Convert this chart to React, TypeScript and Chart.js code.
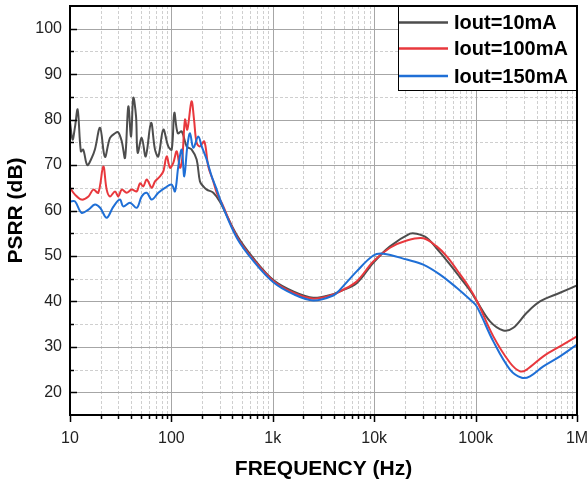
import React, { useEffect, useRef } from 'react';
import { Chart, registerables } from 'chart.js';

Chart.register(...registerables);

const xTickValues = [10, 100, 1000, 10000, 100000, 1000000];
const xTickLabels = ['10', '100', '1k', '10k', '100k', '1M'];
const yTickValues = [20, 30, 40, 50, 60, 70, 80, 90, 100];
const seriesLabels = ['Iout=10mA', 'Iout=100mA', 'Iout=150mA'];
const seriesColors = ['#4d4d4d', '#e8383d', '#1f6fd6'];

const freq10 = [10, 10.6, 11.2, 11.9, 12.8, 13.5, 14.8, 16.4, 17.6, 19.8, 22.1, 24.8, 27.8, 29.9, 32.4, 34.9, 37.6, 40, 42.1, 44.8, 46.5, 51, 55.8, 63, 68.9, 74.3, 83.2, 93.2, 100.7, 106.9, 115.4, 126.4, 141.6, 158.5, 177.4, 191.3, 206.4, 223, 259, 301, 441, 643, 1012, 1592, 2506, 3953, 4603, 6715, 9795, 14330, 22550, 26240, 32940, 44560, 55000, 70000, 88100, 102500, 138700, 187700, 235500, 319300, 431500, 679500, 1000000];
const psrr10 = [79.5, 75.6, 78.4, 82.2, 73, 73.4, 70, 71.6, 73.4, 78.2, 71.8, 76, 77, 77.2, 75.2, 71.6, 82.9, 76.3, 84.8, 80.7, 72.7, 76, 71.9, 79.3, 73.4, 71.9, 77.8, 74.1, 73.4, 81.5, 77, 77.4, 74.1, 73.4, 71.2, 66.4, 65.3, 64.6, 63.9, 61.9, 54.6, 49.5, 44.7, 42.2, 40.8, 41.6, 42.2, 44, 48.5, 52.1, 54.9, 54.9, 54, 50.8, 48.3, 45.3, 42.4, 40.1, 35.6, 33.6, 34.2, 37.5, 40, 41.9, 43.5];

const freq100 = [10, 11.2, 13.0, 15.2, 17.0, 19.0, 21.3, 23.0, 24.8, 27.8, 29.9, 32.4, 36.2, 40.6, 45.5, 49.0, 52.8, 57.1, 64.0, 68.9, 77.2, 83.2, 89.9, 96.9, 104.4, 112.8, 121.6, 128.1, 136.2, 143.5, 158, 167.2, 177.4, 191.3, 211, 231, 259, 280, 313, 441, 643, 1012, 1592, 2506, 3953, 4603, 6715, 9795, 14330, 20940, 30490, 41320, 52000, 66000, 84000, 102500, 149500, 218300, 274300, 319300, 465400, 679500, 1000000];
const psrr100 = [65, 63.5, 62.4, 63.1, 64.6, 63.9, 69.7, 64.6, 63.1, 64.2, 63.1, 64.6, 63.9, 64.6, 64.2, 66, 65.3, 66.8, 65, 66.4, 67.5, 68.6, 71.9, 69.4, 70.5, 73, 69.4, 71.6, 80, 77.8, 84, 80, 74.9, 74.1, 75.2, 69.7, 66.4, 63.9, 61.7, 54.3, 49.2, 44.5, 41.9, 40.6, 41.5, 42.2, 44.4, 48.8, 51.8, 53.4, 53.9, 52.1, 49.9, 46.8, 43.5, 40.2, 32.3, 26.5, 24.6, 25, 27.9, 30.1, 32.3];

const freq150 = [10, 11.2, 13.0, 15.2, 17.6, 19.8, 23.0, 26.7, 31.1, 33.5, 39.1, 45.5, 51, 57.1, 64, 74.3, 86.4, 100.7, 108.5, 117, 126.4, 134, 143.5, 152.6, 164.4, 184, 199, 223, 249.6, 280, 313, 441, 643, 1012, 1592, 2506, 3953, 4603, 6715, 9795, 12300, 20940, 30490, 44560, 65100, 88100, 102500, 149500, 218300, 285000, 344000, 465400, 679500, 1000000];
const psrr150 = [62, 62, 59.5, 60.2, 61.3, 60.6, 58.4, 60.8, 62.4, 60.9, 61.7, 60.6, 63.1, 63.9, 62.4, 63.9, 65, 65.7, 64.2, 69.7, 73.4, 67.5, 74.1, 77, 73.8, 76.3, 74.1, 71.2, 67.5, 64.6, 61.5, 54, 48.9, 44.2, 41.6, 40.2, 41.3, 42.6, 46.6, 50.1, 50.5, 49.2, 48.1, 45.9, 43, 40.4, 38.9, 31.2, 25, 23.2, 23.5, 25.7, 27.9, 30.5];

const FONT = '"Liberation Sans", Arial, sans-serif';

const framePlugin = {
  id: 'frameGrid',
  beforeDatasetsDraw(chart: any) {
    const { ctx, chartArea, scales } = chart;
    const { left, right, top, bottom } = chartArea;
    const x = scales.x;
    const y = scales.y;
    ctx.save();
    ctx.lineWidth = 1;
    ctx.strokeStyle = '#cfcfcf';
    ctx.setLineDash([3, 2]);
    for (let d = 1; d <= 5; d++) {
      for (let m = 2; m <= 9; m++) {
        const px = Math.round(x.getPixelForValue(m * Math.pow(10, d))) + 0.5;
        ctx.beginPath();
        ctx.moveTo(px, top);
        ctx.lineTo(px, bottom);
        ctx.stroke();
      }
    }
    for (let v = 25; v <= 95; v += 10) {
      const py = Math.round(y.getPixelForValue(v)) + 0.5;
      ctx.beginPath();
      ctx.moveTo(left, py);
      ctx.lineTo(right, py);
      ctx.stroke();
    }
    ctx.setLineDash([]);
    ctx.strokeStyle = '#a6a6a6';
    for (const v of xTickValues) {
      const px = Math.round(x.getPixelForValue(v)) + 0.5;
      ctx.beginPath();
      ctx.moveTo(px, top);
      ctx.lineTo(px, bottom);
      ctx.stroke();
    }
    for (const v of yTickValues) {
      const py = Math.round(y.getPixelForValue(v)) + 0.5;
      ctx.beginPath();
      ctx.moveTo(left, py);
      ctx.lineTo(right, py);
      ctx.stroke();
    }
    ctx.restore();
  },
  afterDatasetsDraw(chart: any) {
    const { ctx, chartArea, scales } = chart;
    const { left, right, top, bottom } = chartArea;
    const x = scales.x;
    const y = scales.y;
    ctx.save();
    ctx.strokeStyle = '#000';
    ctx.lineWidth = 2;
    ctx.strokeRect(left, top, right - left, bottom - top);
    ctx.lineWidth = 1.5;
    for (const v of yTickValues) {
      const py = Math.round(y.getPixelForValue(v)) + 0.5;
      ctx.beginPath();
      ctx.moveTo(left, py);
      ctx.lineTo(left + 7, py);
      ctx.stroke();
    }
    for (let v = 25; v <= 95; v += 10) {
      const py = Math.round(y.getPixelForValue(v)) + 0.5;
      ctx.beginPath();
      ctx.moveTo(left, py);
      ctx.lineTo(left + 4, py);
      ctx.stroke();
    }
    for (const v of xTickValues) {
      const px = Math.round(x.getPixelForValue(v)) + 0.5;
      ctx.beginPath();
      ctx.moveTo(px, bottom);
      ctx.lineTo(px, bottom + 7);
      ctx.stroke();
    }
    for (let d = 1; d <= 5; d++) {
      for (let m = 2; m <= 9; m++) {
        const px = Math.round(x.getPixelForValue(m * Math.pow(10, d))) + 0.5;
        ctx.beginPath();
        ctx.moveTo(px, bottom);
        ctx.lineTo(px, bottom + 4);
        ctx.stroke();
      }
    }
    // legend
    const bx = 398;
    const by = top;
    const bw = right - bx;
    const bh = 84;
    ctx.fillStyle = '#fff';
    ctx.fillRect(bx, by, bw, bh);
    ctx.lineWidth = 1;
    ctx.strokeStyle = '#000';
    ctx.strokeRect(bx + 0.5, by + 0.5, bw - 0.5, bh);
    ctx.lineWidth = 2;
    ctx.strokeRect(left, top, right - left, bottom - top);
    const rows = [22.5, 48.5, 76];
    ctx.font = 'bold 20px ' + FONT;
    ctx.textBaseline = 'middle';
    ctx.textAlign = 'left';
    seriesLabels.forEach((lab, i) => {
      ctx.strokeStyle = seriesColors[i];
      ctx.lineWidth = 2.5;
      ctx.beginPath();
      ctx.moveTo(bx + 1, rows[i]);
      ctx.lineTo(bx + 50, rows[i]);
      ctx.stroke();
      ctx.fillStyle = '#000';
      ctx.fillText(lab, bx + 56, rows[i] + 1);
    });
    ctx.restore();
  },
};

export default function App() {
  const ref = useRef<HTMLCanvasElement | null>(null);
  useEffect(() => {
    if (!ref.current) return;
    const mk = (f: number[], v: number[]) => f.map((fx, i) => ({ x: fx, y: v[i] }));
    const series = [mk(freq10, psrr10), mk(freq100, psrr100), mk(freq150, psrr150)];
    const chart = new Chart(ref.current, {
      type: 'line',
      data: {
        datasets: series.map((d, i) => ({
          label: seriesLabels[i],
          data: d,
          borderColor: seriesColors[i],
          backgroundColor: seriesColors[i],
          borderWidth: 2,
          pointRadius: 0,
          fill: false,
          tension: 0.35,
          order: 2 - i,
        })),
      },
      options: {
        animation: false,
        responsive: false,
        events: [],
        layout: { autoPadding: false, padding: { top: 6, right: 11, left: 0, bottom: 0 } },
        plugins: { legend: { display: false }, tooltip: { enabled: false } },
        scales: {
          x: {
            type: 'logarithmic',
            min: 10,
            max: 1000000,
            grid: { display: false, drawTicks: false },
            border: { display: false },
            afterBuildTicks: (s: any) => { s.ticks = xTickValues.map((v) => ({ value: v })); },
            afterFit: (s: any) => { s.height = 69; s.paddingLeft = 0; s.paddingRight = 0; },
            ticks: {
              autoSkip: false,
              maxRotation: 0,
              padding: 14,
              color: '#222',
              font: { family: FONT, size: 16 },
              callback: (_v: any, i: number) => xTickLabels[i],
            },
            title: {
              display: true,
              text: 'FREQUENCY (Hz)',
              color: '#000',
              font: { family: FONT, size: 21, weight: 'bold' },
              padding: { top: 0, bottom: 2 },
            },
          },
          y: {
            type: 'linear',
            min: 15,
            max: 105,
            grid: { display: false, drawTicks: false },
            border: { display: false },
            afterBuildTicks: (s: any) => { s.ticks = yTickValues.map((v) => ({ value: v })); },
            afterFit: (s: any) => { s.width = 70; s.paddingTop = 0; s.paddingBottom = 0; },
            ticks: {
              padding: 8,
              color: '#222',
              font: { family: FONT, size: 16 },
            },
            title: {
              display: true,
              text: 'PSRR (dB)',
              color: '#000',
              font: { family: FONT, size: 21, weight: 'bold' },
              padding: { top: 4, bottom: 0 },
            },
          },
        },
      } as any,
      plugins: [framePlugin],
    });
    return () => chart.destroy();
  }, []);
  return (
    <div style={{ position: 'fixed', left: 0, top: 0, width: 588, height: 484, background: '#fff' }}>
      <canvas ref={ref} width={588} height={484} style={{ display: 'block' }} />
    </div>
  );
}
